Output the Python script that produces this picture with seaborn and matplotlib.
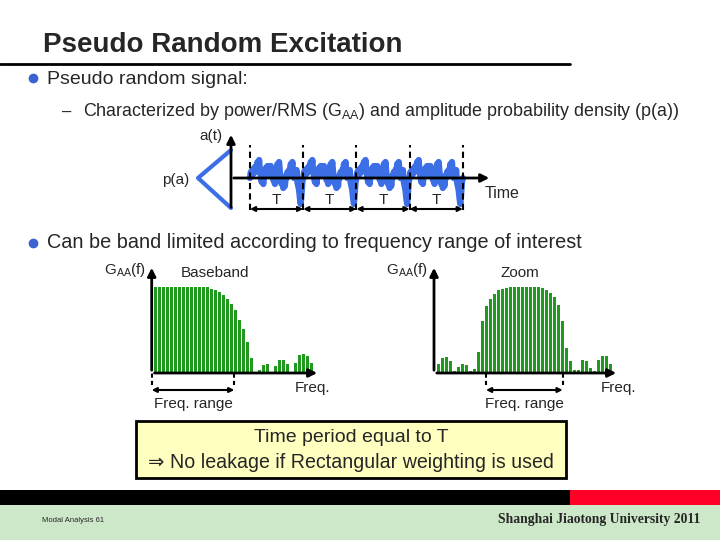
import numpy as np
import pandas as pd
import matplotlib
matplotlib.use("Agg")
import matplotlib.pyplot as plt
from matplotlib.patches import Rectangle
import seaborn as sns

# one period T of the pseudo random signal a(t) (repeats every T)
signal_period = [0.0, 0.3, 0.1, 0.4, 0.2, 0.5, 0.3, 0.6, 0.4, 0.8,
                 0.5, 0.9, 0.3, 0.1, -0.2, 0.0, -0.3, 0.2, 0.1, 0.5,
                 0.3, 0.6, 0.2, 0.5, 0.3, 0.6, 0.1, 0.3, -0.1, 0.0,
                 -0.3, 0.2, 0.4, 0.7, 0.5, 0.8, 0.3, 0.0, -0.3, -0.1,
                 -0.5, -0.2, -0.4, 0.1, 0.0, 0.3, 0.1, 0.4, 0.3, 0.7,
                 0.5, 0.8, 0.2, 0.0, 0.3, 0.1, 0.4, -0.2, -0.4, -0.6,
                 -1.0, -1.3, -0.8, -0.2]
n_periods = 4

# amplitude probability density p(a)
pdf_amp = [1.4, 0.0, -1.5]
pdf_val = [0.0, 1.0, 0.0]

# G_AA(f) spectra
baseband_gaa = [1.0, 1.0, 1.0, 1.0, 1.0, 1.0, 1.0, 1.0, 1.0, 1.0, 1.0, 1.0, 1.0, 1.0,
                0.98, 0.96, 0.94, 0.91, 0.86, 0.80, 0.73, 0.62, 0.51, 0.36,
                0.17, 0.0, 0.03, 0.09, 0.10, 0.01, 0.08, 0.15, 0.15, 0.10,
                0.01, 0.12, 0.21, 0.22, 0.20, 0.12]
zoom_gaa = [0.10, 0.17, 0.19, 0.14, 0.02, 0.07, 0.10, 0.09, 0.02, 0.05,
            0.25, 0.60, 0.78, 0.86, 0.92, 0.96, 0.98, 0.99,
            1.0, 1.0, 1.0, 1.0, 1.0, 1.0, 1.0, 1.0,
            0.99, 0.97, 0.93, 0.88, 0.79, 0.61, 0.29, 0.14, 0.03, 0.04,
            0.15, 0.14, 0.06, 0.02, 0.15, 0.20, 0.20, 0.11]

title = "Pseudo Random Excitation"
bullet1 = "Pseudo random signal:"
sub1 = "Characterized by power/RMS (G$_{\\mathrm{AA}}$) and amplitude probability density (p(a))"
bullet2 = "Can be band limited according to frequency range of interest"
box_lines = ["Time period equal to T", "\u21d2 No leakage if Rectangular weighting is used"]

sns.set_style("white")
plt.rcParams["font.family"] = ["Liberation Sans", "DejaVu Sans"]
plt.rcParams["mathtext.fontset"] = "custom"
plt.rcParams["mathtext.rm"] = "Liberation Sans"
plt.rcParams["mathtext.it"] = "Liberation Sans"

W, H = 720, 540
fig = plt.figure(figsize=(7.2, 5.4), dpi=100)
fig.patch.set_facecolor("white")

blue = "#3c6ee6"
green = "#1f9a1f"


def px_axes(x0, y0, x1, y1):
    a = fig.add_axes([x0 / W, 1 - y1 / H, (x1 - x0) / W, (y1 - y0) / H])
    a.set_axis_off()
    a.patch.set_alpha(0)
    return a


# ---- slide decoration layer ----
ax0 = px_axes(0, 0, W, H)
ax0.set_xlim(0, W)
ax0.set_ylim(H, 0)
ax0.text(43, 45, title, fontsize=20, fontweight="bold", va="center")
ax0.plot([0, 570], [64, 64], color="black", lw=2)
ax0.plot([33, 33], [78, 243], "o", color="#3a62d0", ms=6, ls="none")
ax0.text(47, 79, bullet1, fontsize=14, va="center")
ax0.text(62, 112, "\u2013", fontsize=12, va="center")
ax0.text(83, 112, sub1, fontsize=12.9, va="center")
ax0.text(47, 243, bullet2, fontsize=14.3, va="center")
ax0.add_patch(Rectangle((136, 421), 430, 57, fc="#ffffc0", ec="black", lw=2))
ax0.text(351, 438, box_lines[0], fontsize=14, ha="center", va="center")
ax0.text(351, 462, box_lines[1], fontsize=14.1, ha="center", va="center")
ax0.add_patch(Rectangle((0, 490), 570, 15, fc="black", ec="none"))
ax0.add_patch(Rectangle((570, 490), 150, 15, fc="#ff0026", ec="none"))
ax0.add_patch(Rectangle((0, 505), 720, 35, fc="#cde8c8", ec="none"))
ax0.text(42, 520, "Modal Analysis 61", fontsize=5.5, va="center")
ax0.text(700, 520, "Shanghai Jiaotong University 2011", fontsize=9.8,
         fontweight="bold", family="Liberation Serif", ha="right", va="center")

# ---- pseudo random signal a(t) ----
sig = signal_period * n_periods + [signal_period[0]]
sig_df = pd.DataFrame({"t": np.arange(len(sig)) / len(signal_period), "a": sig})
ax1 = px_axes(170, 125, 500, 220)
ax1.set_xlim(-80 / 53.2, 250 / 53.2)
ax1.set_ylim(-42 / 20, 53 / 20)
t_axis = -19 / 53.2
ax1.annotate("", xy=(4.55, 0), xytext=(t_axis, 0),
             arrowprops=dict(arrowstyle="-|>", color="black", lw=2, mutation_scale=12))
ax1.annotate("", xy=(t_axis, 2.3), xytext=(t_axis, -1.6),
             arrowprops=dict(arrowstyle="-|>", color="black", lw=2, mutation_scale=12))
sns.lineplot(data=sig_df, x="t", y="a", ax=ax1, color=blue, lw=4.5, sort=False)
ax1.plot([t_axis - 0.62 * v for v in pdf_val], pdf_amp, color=blue, lw=3)
ax1.vlines(range(n_periods + 1), -1.6, 1.65, colors="black", lw=1.5, linestyles=(0, (3, 2)))
for k in range(n_periods):
    ax1.annotate("", xy=(k + 1, -1.55), xytext=(k, -1.55),
                 arrowprops=dict(arrowstyle="<|-|>", color="black", lw=1.5,
                                 mutation_scale=7, shrinkA=0, shrinkB=0))
    ax1.text(k + 0.5, -1.1, "T", fontsize=11, ha="center", va="center")
ax1.set_axis_off()
ax0.text(211, 136, "a(t)", fontsize=11, ha="center", va="center")
ax0.text(176, 180, "p(a)", fontsize=11, ha="center", va="center")
ax0.text(502, 194, "Time", fontsize=11.5, ha="center", va="center")


# ---- G_AA(f) bar spectra ----
def spectrum(values, x0, x_first, yaxis_px, arrow_px, range_px, label, label_px):
    x1 = x0 + 200 if x0 > 300 else 330
    ax = px_axes(x0, 255, x1, 415)
    df = pd.DataFrame({"f": range(len(values)), "g": values})
    sns.barplot(data=df, x="f", y="g", ax=ax, color=green, saturation=1,
                width=0.75, linewidth=0)
    ax.set_xlim((x0 - x_first) / 4, (x1 - x_first) / 4)
    ax.set_ylim(-42 / 86, 118 / 86)
    ax.set_axis_off()
    ya = (yaxis_px - x_first) / 4
    ax.annotate("", xy=((arrow_px - x_first) / 4, 0), xytext=(ya, 0),
                arrowprops=dict(arrowstyle="-|>", color="black", lw=2, mutation_scale=12))
    ax.annotate("", xy=(ya, 108 / 86), xytext=(ya, 0),
                arrowprops=dict(arrowstyle="-|>", color="black", lw=2, mutation_scale=12))
    r0, r1 = [(p - x_first) / 4 for p in range_px]
    ax.vlines([r0, r1], -12 / 86, 0, colors="black", lw=1.5, linestyles=(0, (2, 1.5)))
    ax.annotate("", xy=(r1, -17 / 86), xytext=(r0, -17 / 86),
                arrowprops=dict(arrowstyle="<|-|>", color="black", lw=1.5,
                                mutation_scale=7, shrinkA=0, shrinkB=0))
    ax0.text(sum(range_px) / 2, 404, "Freq. range", fontsize=11, ha="center", va="center")
    ax0.text(label_px, 273, label, fontsize=11, ha="center", va="center")


spectrum(baseband_gaa, 140, 155, 151.7, 320, (151.7, 234.3), "Baseband", 215)
spectrum(zoom_gaa, 420, 438.3, 434, 619, (486, 562.7), "Zoom", 520)
ax0.text(313, 388, "Freq.", fontsize=11, ha="center", va="center")
ax0.text(618, 388, "Freq.", fontsize=11, ha="center", va="center")
ax0.text(125, 270, "G$_{\\mathrm{AA}}$(f)", fontsize=11, ha="center", va="center")
ax0.text(407, 270, "G$_{\\mathrm{AA}}$(f)", fontsize=11, ha="center", va="center")

fig.savefig("out.png", dpi=100)
